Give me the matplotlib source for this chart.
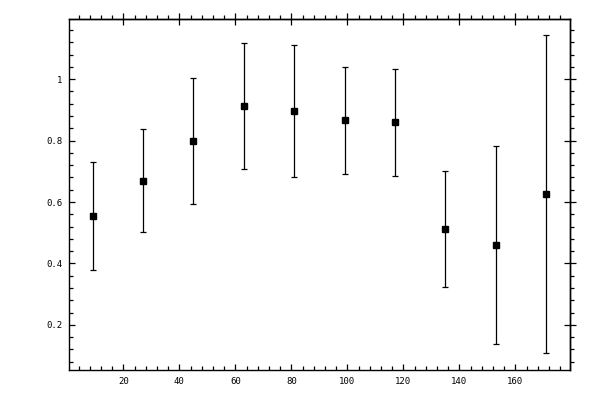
import matplotlib
matplotlib.use("Agg")
import matplotlib.pyplot as plt
from matplotlib.ticker import MultipleLocator, FuncFormatter

x = [9, 27, 45, 63, 81, 99, 117, 135, 153, 171]
y = [0.554, 0.670, 0.798, 0.912, 0.896, 0.866, 0.859, 0.512, 0.459, 0.626]
err = [0.176, 0.168, 0.205, 0.205, 0.215, 0.174, 0.175, 0.189, 0.322, 0.518]

fig = plt.figure(figsize=(6, 4), dpi=100)
ax = fig.add_axes([69.3/600, 1-370/400, (570.3-69.3)/600, (370-19.3)/400])

ax.errorbar(x, y, yerr=err, fmt='s', color='black', ecolor='black',
            markersize=5, elinewidth=0.9, capsize=2, capthick=0.9)

ax.set_xlim(0.7, 179.6)
ax.set_ylim(0.053, 1.195)

ax.xaxis.set_major_locator(MultipleLocator(20))
ax.xaxis.set_minor_locator(MultipleLocator(4))
ax.yaxis.set_major_locator(MultipleLocator(0.2))
ax.yaxis.set_minor_locator(MultipleLocator(0.04))
fmt = FuncFormatter(lambda v, p: ('%g' % round(v, 6)))
ax.xaxis.set_major_formatter(fmt)
ax.yaxis.set_major_formatter(fmt)

for s in ax.spines.values():
    s.set_linewidth(1.0)

ax.tick_params(which='both', direction='in', top=False, right=False,
               labelsize=6.5, width=0.9, pad=5)
ax.tick_params(which='major', length=4)
ax.tick_params(which='minor', length=3)
for lab in ax.get_xticklabels() + ax.get_yticklabels():
    lab.set_family('DejaVu Sans Mono')

# top and right ticks pointing outward
secx = ax.secondary_xaxis('top')
secx.xaxis.set_major_locator(MultipleLocator(20))
secx.xaxis.set_minor_locator(MultipleLocator(4))
secx.tick_params(which='major', direction='inout', length=8, width=0.9, labeltop=False)
secx.tick_params(which='minor', direction='out', length=3, width=0.9)
secx.spines['top'].set_linewidth(1.0)
secy = ax.secondary_yaxis('right')
secy.yaxis.set_major_locator(MultipleLocator(0.2))
secy.yaxis.set_minor_locator(MultipleLocator(0.04))
secy.tick_params(which='major', direction='inout', length=8, width=0.9, labelright=False)
secy.tick_params(which='minor', direction='out', length=3, width=0.9)
secy.spines['right'].set_linewidth(1.0)

fig.savefig('out.png', dpi=100)
